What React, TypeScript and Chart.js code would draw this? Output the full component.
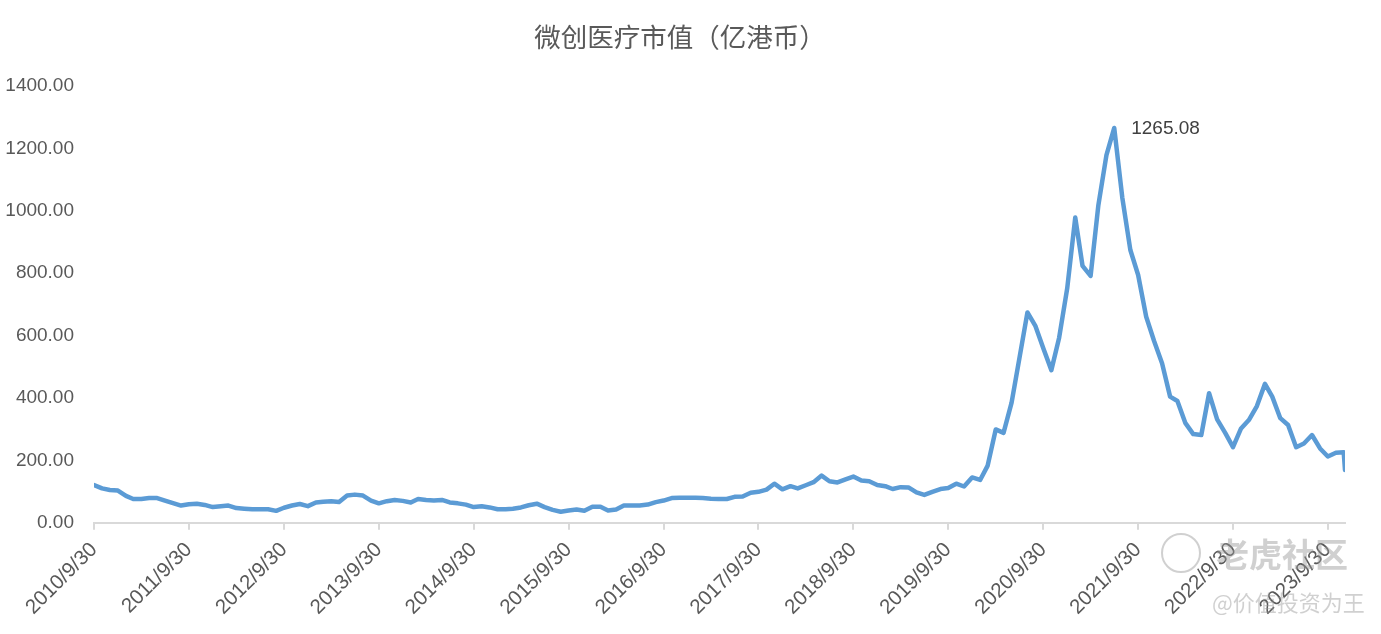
import React, { useEffect, useRef } from "react";
import { Chart, registerables } from "chart.js";

Chart.register(...registerables);

const TITLE = "微创医疗市值（亿港币）";

// month-end dates 2010/9/30 ... 2023/11/30, plus the last quoted date
function monthEnd(y: number, m: number): string {
  const d = new Date(Date.UTC(y, m, 0)).getUTCDate();
  return `${y}/${m}/${d}`;
}
const monthlyDates: string[] = [];
for (let i = 0; i < 159; i++) {
  const t = 8 + i;
  monthlyDates.push(monthEnd(2010 + Math.floor(t / 12), (t % 12) + 1));
}
const dates: string[] = [...monthlyDates, "2023/12/5"];

// 市值（亿港币）
const marketCap2010_2013 = [
  121, 110, 105, 103, 86, 76, 76, 79, 79, 71, 63, 55,
  59, 61, 57, 50, 53, 55, 47, 45, 43, 43, 43, 38,
  48, 55, 60, 53, 65, 67, 69, 66, 87, 90, 87, 71,
];
const marketCap2013_2016 = [
  62, 69, 73, 70, 65, 76, 73, 71, 73, 65, 62, 58,
  50, 53, 49, 43, 43, 45, 49, 56, 61, 50, 41, 35,
  39, 42, 38, 51, 51, 39, 42, 55, 55, 55, 58, 66,
];
const marketCap2016_2019 = [
  71, 79, 80, 80, 80, 79, 77, 76, 76, 83, 84, 96,
  99, 106, 125, 107, 117, 110, 120, 130, 151, 133, 129, 139,
  148, 135, 133, 121, 117, 108, 114, 113, 97, 89, 99, 108,
];
const marketCap2019_2023 = [
  111, 125, 116, 145, 137, 183, 299, 288, 385, 527, 674, 630,
  559, 489, 593, 751, 978, 823, 791, 1018, 1178, 1265.08, 1042, 874,
  794, 660, 583, 511, 404, 390, 319, 284, 281, 415, 331, 288,
  242, 302, 329, 374, 445, 404, 335, 313, 242, 254, 281, 238,
  212, 224, 226, 169,
];
const marketCap = [
  ...marketCap2010_2013,
  ...marketCap2013_2016,
  ...marketCap2016_2019,
  ...marketCap2019_2023,
];

const tickLabels = [
  "2010/9/30", "2011/9/30", "2012/9/30", "2013/9/30", "2014/9/30",
  "2015/9/30", "2016/9/30", "2017/9/30", "2018/9/30", "2019/9/30",
  "2020/9/30", "2021/9/30", "2022/9/30", "2023/9/30",
];
const yMax = 1400;
const yStep = 200;
const peakText = "1265.08";
const watermark = ["老虎社区", "@价值投资为王"];

function dayNum(s: string): number {
  const [y, m, d] = s.split("/").map(Number);
  return (Date.UTC(y, m - 1, d) - Date.UTC(2010, 8, 30)) / 864e5;
}

const FONT = "'Liberation Sans', Arial, Helvetica, sans-serif";

const peakLabelPlugin = {
  id: "peakLabel",
  afterDatasetsDraw(chart: any) {
    const data = chart.data.datasets[0].data as { x: number; y: number }[];
    let idx = 0;
    data.forEach((p, i) => {
      if (p.y > data[idx].y) idx = i;
    });
    const el = chart.getDatasetMeta(0).data[idx];
    const ctx = chart.ctx;
    ctx.save();
    ctx.font = `19px ${FONT}`;
    ctx.fillStyle = "#404040";
    ctx.textAlign = "left";
    ctx.textBaseline = "middle";
    ctx.fillText(peakText, el.x + 17, el.y + 1);
    ctx.restore();
  },
};

const watermarkPlugin = {
  id: "watermark",
  afterDraw(chart: any) {
    const ctx = chart.ctx;
    ctx.save();
    ctx.fillStyle = "rgba(150,150,150,0.45)";
    ctx.strokeStyle = "rgba(150,150,150,0.45)";
    ctx.lineWidth = 2;
    ctx.beginPath();
    ctx.arc(1181, 553, 19, 0, Math.PI * 2);
    ctx.stroke();
    ctx.textAlign = "left";
    ctx.textBaseline = "middle";
    ctx.font = `bold 33px 'Noto Sans CJK SC'`;
    ctx.fillText(watermark[0], 1216, 554);
    ctx.font = `22px 'Noto Sans CJK SC'`;
    ctx.fillText(watermark[1], 1212, 603);
    ctx.restore();
  },
};

export default function App() {
  const ref = useRef<HTMLCanvasElement | null>(null);

  useEffect(() => {
    document.body.style.margin = "0";
    const canvas = ref.current;
    if (!canvas) return;
    const points = dates.map((d, i) => ({ x: dayNum(d), y: marketCap[i] }));
    const chart = new Chart(canvas, {
      type: "line",
      data: {
        datasets: [
          {
            data: points,
            borderColor: "#5B9BD5",
            backgroundColor: "#5B9BD5",
            borderWidth: 4.5,
            pointRadius: 0,
            tension: 0,
            borderJoinStyle: "round",
            borderCapStyle: "round",
            fill: false,
          },
        ],
      },
      options: {
        animation: false,
        responsive: false,
        devicePixelRatio: 1,
        layout: { padding: { left: 0, right: 21, top: 0, bottom: 0 } },
        plugins: {
          legend: { display: false },
          tooltip: { enabled: false },
          title: {
            display: true,
            text: TITLE,
            color: "#595959",
            font: { family: "'Noto Sans CJK SC'", size: 26.5, weight: "normal" },
            padding: { top: 21.1, bottom: 33 },
          },
        },
        scales: {
          x: {
            type: "linear",
            min: 0,
            max: dayNum(dates[dates.length - 1]),
            afterBuildTicks: (s: any) => {
              s.ticks = tickLabels.map((l) => ({ value: dayNum(l) }));
            },
            afterFit: (s: any) => {
              s.height = 111.3;
              s.paddingLeft = 0;
              s.paddingRight = 36;
            },
            grid: {
              display: true,
              drawOnChartArea: false,
              drawTicks: true,
              tickLength: 7,
              color: "#d9d9d9",
              lineWidth: 2,
            },
            border: { display: true, color: "#d9d9d9", width: 2 },
            ticks: {
              autoSkip: false,
              minRotation: 45,
              maxRotation: 45,
              padding: 8,
              color: "#595959",
              font: { family: FONT, size: 20.5 },
              callback: (_v: any, i: number) => tickLabels[i],
            },
          },
          y: {
            min: 0,
            max: yMax,
            afterFit: (s: any) => {
              s.width = 94;
            },
            grid: { display: false },
            border: { display: false },
            ticks: {
              stepSize: yStep,
              padding: 12,
              color: "#595959",
              font: { family: FONT, size: 19 },
              callback: (v: any) => Number(v).toFixed(2),
            },
          },
        },
      },
      plugins: [peakLabelPlugin, watermarkPlugin],
    } as any);
    return () => chart.destroy();
  }, []);

  return (
    <div style={{ width: 1381, height: 634 }}>
      <canvas ref={ref} width={1381} height={634} style={{ display: "block" }} />
    </div>
  );
}
